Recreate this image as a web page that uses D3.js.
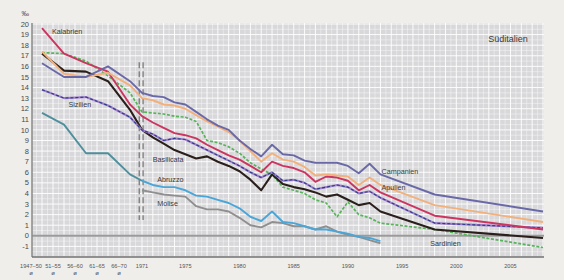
<!DOCTYPE html>
<html><head><meta charset="utf-8">
<script src="https://cdn.jsdelivr.net/npm/d3@7"></script>
<style>
html,body{margin:0;padding:0;background:#efeeeb;}
svg{display:block;font-family:"Liberation Sans","DejaVu Sans",sans-serif;}
</style></head><body>
<svg id="c" width="564" height="280"></svg>
<script>
// ---------- data ----------
const periodLabels = ["1947–50","51–55","56–60","61–65","66–70"];
const years = [1971,1972,1973,1974,1975,1976,1977,1978,1979,1980,1981,1982,1983,1984,1985,1986,1987,1988,1989,1990,1991,1992,1993,1998,2008];
const yearTicks = [1971,1975,1980,1985,1990,1995,2000,2005];
const yTicks = [-1,0,1,2,3,4,5,6,7,8,9,10,11,12,13,14,15,16,17,18,19,20];

const kalabrienP  = [19.6,17.2,16.3,15.5,12.4];
const kalabrienY  = [11.3,10.7,10.2,9.7,9.5,9.2,8.6,8.1,7.6,7.2,6.6,6.0,7.0,6.6,6.4,6.0,5.1,5.6,5.5,5.2,4.3,4.8,4.1,1.9,0.6];
const campanienP  = [16.3,15.0,15.0,16.0,14.6];
const campanienY  = [13.5,13.2,13.1,12.6,12.4,11.7,11.0,10.4,10.0,9.0,8.2,7.5,8.6,7.7,7.6,7.1,6.9,6.9,6.9,6.6,5.9,6.8,5.8,3.9,2.3];
const apulienP    = [17.4,15.3,15.0,15.4,14.2];
const apulienY    = [13.0,12.8,12.4,12.3,12.0,11.4,10.8,10.3,9.8,9.0,8.0,7.0,7.8,7.2,7.0,6.5,5.7,5.8,5.7,5.6,4.8,5.5,4.8,2.9,1.3];
const sizilienP   = [13.8,13.0,13.1,12.3,11.2];
const sizilienY   = [10.0,9.6,9.0,9.2,9.1,8.6,8.1,7.6,7.1,6.6,6.0,5.5,6.0,5.2,5.3,5.0,4.4,4.6,4.8,4.6,4.0,4.2,3.6,1.2,0.75];
const basilicataP = [17.2,15.6,15.5,14.6,11.9];
const basilicataY = [10.0,9.3,8.7,8.1,7.7,7.3,7.5,7.0,6.6,6.1,5.3,4.3,5.8,4.9,4.6,4.4,4.1,3.7,3.9,3.4,2.9,3.1,2.3,0.6,-0.2];
const sardinienP  = [17.3,17.2,16.5,15.1,13.5];
const sardinienY  = [11.7,11.6,11.5,11.3,11.2,10.8,9.0,8.8,8.4,7.8,6.9,6.3,5.8,4.6,4.3,4.0,3.4,3.1,1.8,3.2,2.0,1.7,1.2,0.6,-1.1];
const abruzzoMoliseP = [11.6,10.5,7.8,7.8,5.8];
const abruzzoY    = [5.2,4.8,4.6,4.6,4.3,3.8,3.7,3.4,3.1,2.6,1.8,1.4,2.3,1.3,1.2,0.9,0.6,0.6,0.4,0.2,-0.1,-0.2,-0.5,null,null];
const moliseY     = [4.3,4.1,3.9,3.8,3.7,2.8,2.5,2.5,2.3,1.7,1.0,0.8,1.3,1.2,0.9,0.9,0.6,0.9,0.4,0.1,-0.1,-0.4,-0.7,null,null];

// ---------- scales ----------
const svg = d3.select("#c");
const xP = d3.scaleLinear().domain([0,4]).range([42,130]);      // period section
const xY = d3.scaleLinear().domain([1971,2008]).range([142,543]); // yearly section
const y  = d3.scaleLinear().domain([-2,20]).range([257,24]);
const pLeft = 32, pRight = 544, pTop = 23, pBottom = 257;

// plot background
svg.append("rect").attr("x",pLeft).attr("y",pTop).attr("width",pRight-pLeft).attr("height",pBottom-pTop).attr("fill","#d8d8db");

// grid
const g = svg.append("g");
d3.range(-2,20.01,0.5).forEach(v=>{
  const major = Math.abs(v-Math.round(v))<1e-6;
  g.append("line").attr("x1",pLeft).attr("x2",pRight).attr("y1",y(v)).attr("y2",y(v))
   .attr("stroke","#fff").attr("stroke-opacity",major?0.9:0.55).attr("stroke-width",major?1:0.7);
});
d3.range(-0.25,4.51,0.25).forEach(p=>{
  const xx = xP(p); if (xx<=pLeft || xx>=140) return;
  const major = Math.abs(p*2-Math.round(p*2))<1e-6;
  g.append("line").attr("x1",xx).attr("x2",xx).attr("y1",pTop).attr("y2",pBottom)
   .attr("stroke","#fff").attr("stroke-opacity",major?0.9:0.55).attr("stroke-width",major?1:0.7);
});
d3.range(1971,2008.01,0.5).forEach(t=>{
  const xx = xY(t); if (xx>=pRight) return;
  const major = Math.abs(t-Math.round(t))<1e-6;
  g.append("line").attr("x1",xx).attr("x2",xx).attr("y1",pTop).attr("y2",pBottom)
   .attr("stroke","#fff").attr("stroke-opacity",major?0.9:0.55).attr("stroke-width",major?1:0.7);
});

// zero line
svg.append("line").attr("x1",pLeft).attr("x2",pRight).attr("y1",y(0)).attr("y2",y(0)).attr("stroke","#9a9a9a").attr("stroke-width",2);

// axes lines
svg.append("line").attr("x1",pLeft).attr("x2",pLeft).attr("y1",pTop).attr("y2",pBottom).attr("stroke","#8a8a8a").attr("stroke-width",1.5);
svg.append("line").attr("x1",pLeft).attr("x2",pRight).attr("y1",pBottom).attr("y2",pBottom).attr("stroke","#6f6f6f").attr("stroke-width",1.5);

// break marker
[xP(4.42), xY(1971.1)].forEach(xx=>{
  svg.append("line").attr("x1",xx).attr("x2",xx).attr("y1",y(16.4)).attr("y2",y(1.5))
    .attr("stroke","#7a7a7a").attr("stroke-width",1.3).attr("stroke-dasharray","6,3");
});

// y tick labels
svg.append("g").selectAll("text").data(yTicks).join("text")
  .attr("x",29).attr("y",d=>y(d)).attr("dy","0.35em").attr("text-anchor","end")
  .attr("font-size",7.5).attr("fill","#4a4a4a").text(d=>d);
svg.append("text").attr("x",29).attr("y",y(20)-8).attr("text-anchor","end").attr("font-size",7.5).attr("fill","#4a4a4a").text("‰");

// x tick labels
svg.append("g").selectAll("text").data(periodLabels).join("text")
  .attr("x",(d,i)=>xP(i-0.5)).attr("y",268).attr("text-anchor","middle")
  .attr("font-size",5.6).attr("fill","#555").text(d=>d);
svg.append("g").selectAll("text").data(periodLabels).join("text")
  .attr("x",(d,i)=>xP(i-0.5)).attr("y",275).attr("text-anchor","middle")
  .attr("font-size",6).attr("fill","#555").text("ø");
svg.append("g").selectAll("text").data(yearTicks).join("text")
  .attr("x",d=>xY(d)).attr("y",268).attr("text-anchor","middle")
  .attr("font-size",5.6).attr("fill","#555").text(d=>d);

// ---------- lines ----------
function pts(pv, yv){
  const a = [];
  if (pv) pv.forEach((v,i)=>{ if(v!=null) a.push([xP(i),y(v)]); });
  if (yv) yv.forEach((v,i)=>{ if(v!=null) a.push([xY(years[i]),y(v)]); });
  return a;
}
const line = d3.line();
function draw(a, color, w, dash){
  const p = svg.append("path").attr("d",line(a)).attr("fill","none").attr("stroke",color)
    .attr("stroke-width",w).attr("stroke-linejoin","round");
  if (dash) p.attr("stroke-dasharray",dash);
  return p;
}
draw(pts(null,moliseY), "#8f8f8f", 1.9);
draw(pts(abruzzoMoliseP,[abruzzoY[0]]), "#4f8f9c", 1.9);
draw(pts(null,abruzzoY), "#4aa6d8", 1.9);
draw(pts(sardinienP,sardinienY), "#58b45a", 1.7, "3,1.6");
draw(pts(basilicataP,basilicataY), "#2a1f1a", 2.1);
draw(pts(sizilienP,sizilienY), "#9f7fca", 2.1);
draw(pts(sizilienP,sizilienY), "#2c3a88", 1.1, "3,2");
draw(pts(kalabrienP,kalabrienY), "#cc3560", 1.9);
draw(pts(apulienP,apulienY), "#f2b07c", 1.9);
draw(pts(campanienP,campanienY), "#6a69a8", 1.9);

// ---------- labels ----------
function lab(x, v, t, size, anchor){
  svg.append("text").attr("x",x).attr("y",y(v)).attr("dy","0.35em").attr("font-size",size||7.2)
    .attr("fill","#3a3a3a").attr("text-anchor",anchor||"start").text(t);
}
lab(xP(0.45), 19.3, "Kalabrien");
lab(xP(1.2), 12.4, "Sizilien");
lab(xY(1972.0), 7.2, "Basilicata");
lab(xY(1972.4), 5.3, "Abruzzo");
lab(xY(1972.4), 3.1, "Molise");
lab(xY(1993.1), 6.1, "Campanien");
lab(xY(1993.1), 4.6, "Apulien");
lab(xY(1997.6), -0.7, "Sardinien");
lab(xY(2006.6), 18.6, "Süditalien", 9, "end");
</script>
</body></html>
